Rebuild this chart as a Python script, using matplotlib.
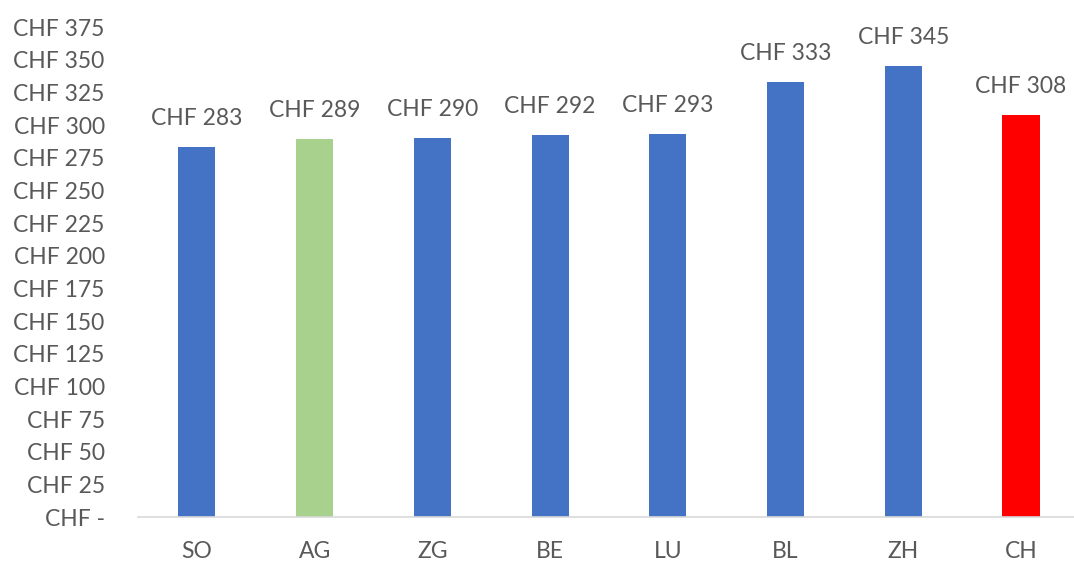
import matplotlib.pyplot as plt
from matplotlib.ticker import FuncFormatter

cantons = ['SO', 'AG', 'ZG', 'BE', 'LU', 'BL', 'ZH', 'CH']
values = [283, 289, 290, 292, 293, 333, 345, 308]
colors = ['#4472C4', '#A9D18E', '#4472C4', '#4472C4', '#4472C4', '#4472C4', '#4472C4', '#FF0000']

plt.rcParams['font.family'] = ['Lato', 'DejaVu Sans']
grey = '#595959'

fig = plt.figure(figsize=(10.74, 5.63), dpi=100)
ax = fig.add_axes([0.1285, 0.0817, 0.8715, 0.8703])

x = range(len(cantons))
ax.bar(x, values, width=0.315, color=colors)
for i, v in enumerate(values):
    ax.annotate('CHF %d' % v, (i, v), xytext=(0, 13), textcoords='offset points',
                ha='center', va='bottom', fontsize=16.5, color=grey)

ax.set_ylim(0, 375)
ax.set_xlim(-0.5, 7.45)
ax.set_yticks(range(0, 376, 25))
ax.yaxis.set_major_formatter(FuncFormatter(lambda v, p: 'CHF -' if v == 0 else 'CHF %d' % v))
ax.set_xticks(list(x))
ax.set_xticklabels(cantons)
ax.tick_params(axis='both', length=0, labelsize=16.5, colors=grey)
ax.tick_params(axis='x', pad=17)
ax.tick_params(axis='y', pad=24)
for s in ['top', 'right', 'left']:
    ax.spines[s].set_visible(False)
ax.spines['bottom'].set_color('#D9D9D9')
ax.spines['bottom'].set_linewidth(1.2)

fig.savefig('out.png', dpi=100)
